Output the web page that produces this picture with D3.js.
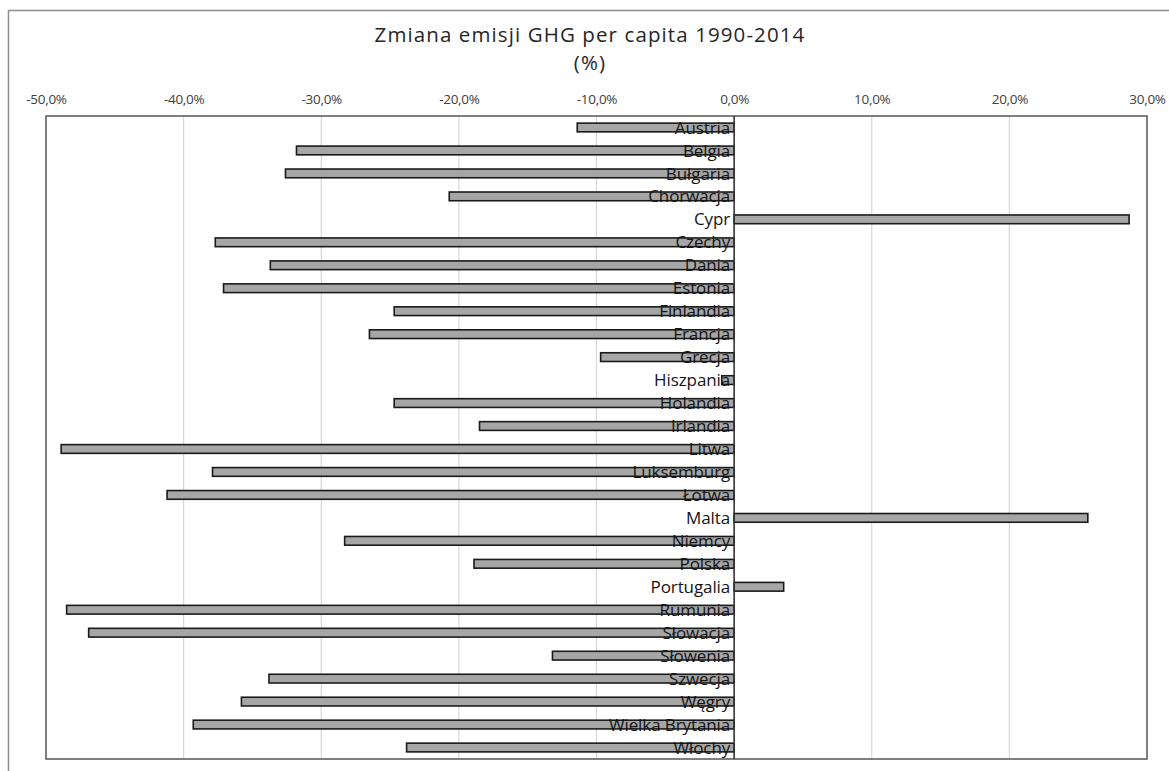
<!DOCTYPE html>
<html>
<head>
<meta charset="utf-8">
<script src="https://cdn.jsdelivr.net/npm/d3@7/dist/d3.min.js"></script>
<style>
  html, body { margin: 0; padding: 0; background: #fff; }
  svg { display: block; }
  text { font-family: "Open Sans", "Liberation Sans", sans-serif; }
</style>
</head>
<body>
<svg id="chart" width="1169" height="771"></svg>
<script>
// Change in GHG emissions per capita, 1990-2014 (%)
const countries = [
  "Austria", "Belgia", "Bułgaria", "Chorwacja", "Cypr", "Czechy", "Dania",
  "Estonia", "Finlandia", "Francja", "Grecja", "Hiszpania", "Holandia",
  "Irlandia", "Litwa", "Luksemburg", "Łotwa", "Malta", "Niemcy", "Polska",
  "Portugalia", "Rumunia", "Słowacja", "Słowenia", "Szwecja", "Węgry",
  "Wielka Brytania", "Włochy"
];
const changePct = [
  -11.4, -31.8, -32.6, -20.7, 28.7, -37.7, -33.7,
  -37.1, -24.7, -26.5, -9.7, -0.9, -24.7,
  -18.5, -48.9, -37.9, -41.2, 25.7, -28.3, -18.9,
  3.6, -48.5, -46.9, -13.2, -33.8, -35.8,
  -39.3, -23.8
];
const xTicks = [-50, -40, -30, -20, -10, 0, 10, 20, 30];
const titleLines = ["Zmiana emisji GHG per capita 1990-2014", "(%)"];

const data = countries.map((c, i) => ({ country: c, value: changePct[i] }));

const svg = d3.select("#chart");
const plot = { left: 46, right: 1147, top: 116, bottom: 759 };

// outer chart frame
svg.append("rect")
  .attr("x", 8.5).attr("y", 10.5)
  .attr("width", 1170).attr("height", 770)
  .attr("fill", "none").attr("stroke", "#8c8c8c").attr("stroke-width", 1.5);

const x = d3.scaleLinear().domain([-50, 30]).range([plot.left, plot.right]);
const y = d3.scaleBand().domain(countries).range([plot.top, plot.bottom]).paddingInner(0.62).paddingOuter(0.31);

// title, two lines
svg.append("g")
  .selectAll("text").data(titleLines).join("text")
  .attr("x", 590)
  .attr("y", (d, i) => 42 + i * 28)
  .attr("text-anchor", "middle")
  .attr("font-size", 20.5).attr("fill", "#262626")
  .attr("letter-spacing", 1.1)
  .text(d => d);

// vertical gridlines
svg.append("g")
  .selectAll("line").data(xTicks.filter(t => t !== 0 && t > -50 && t < 30)).join("line")
  .attr("x1", d => x(d)).attr("x2", d => x(d))
  .attr("y1", plot.top).attr("y2", plot.bottom)
  .attr("stroke", "#d9d9d9").attr("stroke-width", 1.2);

// top axis labels
const axis = d3.axisTop(x)
  .tickValues(xTicks)
  .tickSize(0)
  .tickPadding(0)
  .tickFormat(d => d3.format(".1f")(d).replace(".", ",").replace("−", "-") + "%");
const gAxis = svg.append("g")
  .attr("transform", `translate(0,${plot.top - 12})`)
  .call(axis);
gAxis.select(".domain").remove();
gAxis.selectAll("text")
  .attr("font-size", 13.5).attr("fill", "#404040")
  .attr("font-family", "\"Open Sans\", \"Liberation Sans\", sans-serif")
  .attr("letter-spacing", -0.3);

// plot area frame
svg.append("rect")
  .attr("x", plot.left).attr("y", plot.top)
  .attr("width", plot.right - plot.left).attr("height", plot.bottom - plot.top)
  .attr("fill", "none").attr("stroke", "#555").attr("stroke-width", 1.5);

// bars
svg.append("g")
  .selectAll("rect").data(data).join("rect")
  .attr("x", d => x(Math.min(0, d.value)))
  .attr("y", d => y(d.country))
  .attr("width", d => Math.abs(x(d.value) - x(0)))
  .attr("height", y.bandwidth())
  .attr("fill", "#a6a6a6")
  .attr("stroke", "#1a1a1a").attr("stroke-width", 1.6);

// zero axis
svg.append("line")
  .attr("x1", x(0)).attr("x2", x(0))
  .attr("y1", plot.top).attr("y2", plot.bottom)
  .attr("stroke", "#333").attr("stroke-width", 1.6);

// category labels next to the zero line
svg.append("g")
  .selectAll("text").data(data).join("text")
  .attr("x", x(0) - 4)
  .attr("y", d => y(d.country) + y.bandwidth() / 2)
  .attr("dy", "0.36em")
  .attr("text-anchor", "end")
  .attr("font-size", 17).attr("fill", "#141414")
  .attr("letter-spacing", -0.1)
  .text(d => d.country);
</script>
</body>
</html>
